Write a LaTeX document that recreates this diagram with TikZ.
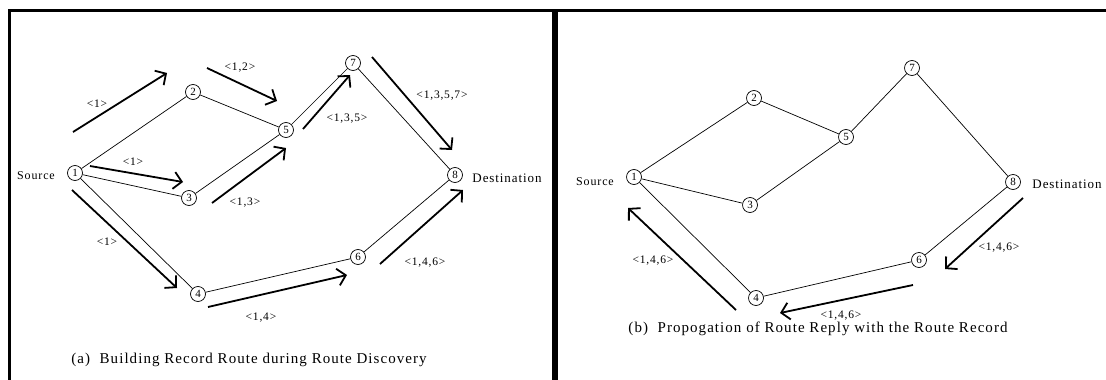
\documentclass[tikz,border=0pt]{standalone}
\usepackage{fontspec}
\setmainfont{Liberation Serif}
\newfontfamily\lspfont[LetterSpace=7]{Liberation Serif}
\usetikzlibrary{arrows.meta}
\begin{document}
\begin{tikzpicture}[x=1pt,y=-1pt,
  nd/.style={circle,draw,line width=0.7pt,inner sep=0pt,minimum size=15pt,font=\fontsize{11}{11}\selectfont},
  edge/.style={line width=0.7pt},
  fat/.style={line width=1.8pt,-{Straight Barb[length=8pt,width=17pt,line width=1.8pt]}},
  lbl/.style={font=\lspfont\fontsize{11.5}{11.5}\selectfont},
  srctxt/.style={font=\lspfont\fontsize{12}{12}\selectfont},
  dsttxt/.style={font=\lspfont\fontsize{13}{13}\selectfont},
  captxt/.style={font=\lspfont\fontsize{15}{15}\selectfont}]
\useasboundingbox (0,0) rectangle (1106,380);
% frame
\draw[line width=3pt] (8,10) -- (1106,10);
\draw[line width=3pt] (9.5,10) -- (9.5,380);
\draw[line width=6pt] (555,10) -- (555,380);

% ---------- panel (a) ----------
\node[nd] (a1) at (75,173) {1};
\node[nd] (a2) at (193,92) {2};
\node[nd] (a3) at (189,198) {3};
\node[nd] (a4) at (198,294) {4};
\node[nd] (a5) at (286,130) {5};
\node[nd] (a6) at (358,257) {6};
\node[nd] (a7) at (353,63) {7};
\node[nd] (a8) at (455,175) {8};
\node[srctxt] (asrc) at (36,176) {Source};
\node[dsttxt] (adst) at (507,178) {Destination};
\foreach \u/\v in {1/2,2/5,1/3,3/5,5/7,7/8,1/4,4/6,6/8}
  \draw[edge] (a\u) -- (a\v);

\coordinate (p1s) at (73,132);  \coordinate (p1e) at (167,73);
\coordinate (p2s) at (207,68);  \coordinate (p2e) at (277,101);
\coordinate (p3s) at (90,166);  \coordinate (p3e) at (183,182);
\coordinate (p4s) at (212,203); \coordinate (p4e) at (286,148);
\coordinate (p5s) at (303,129); \coordinate (p5e) at (350,75);
\coordinate (p6s) at (372,57);  \coordinate (p6e) at (452,150);
\coordinate (p7s) at (380,264); \coordinate (p7e) at (463,190);
\coordinate (p8s) at (72,190);  \coordinate (p8e) at (177,288);
\coordinate (p9s) at (208,307); \coordinate (p9e) at (347,275);
\foreach \i in {1,...,9} \draw[fat] (p\i s) -- (p\i e);

\node[lbl] (l1) at (97,104) {<1>};
\node[lbl] (l2) at (240,68) {<1,2>};
\node[lbl] (l3) at (133,162) {<1>};
\node[lbl] (l4) at (245,203) {<1,3>};
\node[lbl] (l5) at (347,119) {<1,3,5>};
\node[lbl] (l6) at (442,96) {<1,3,5,7>};
\node[lbl] (l7) at (425,263) {<1,4,6>};
\node[lbl] (l8) at (107,242) {<1>};
\node[lbl] (l9) at (261,318) {<1,4>};
\node[captxt] (capa) at (249,360) {(a)\ \ Building Record Route during Route Discovery};

% ---------- panel (b) ----------
\node[nd] (b1) at (634,177) {1};
\node[nd] (b2) at (754,98) {2};
\node[nd] (b3) at (750,205) {3};
\node[nd] (b4) at (756,298) {4};
\node[nd] (b5) at (846,137) {5};
\node[nd] (b6) at (919,260) {6};
\node[nd] (b7) at (912,68) {7};
\node[nd] (b8) at (1013,182) {8};
\node[srctxt] (bsrc) at (595,182) {Source};
\node[dsttxt] (bdst) at (1067,184) {Destination};
\foreach \u/\v in {1/2,2/5,1/3,3/5,5/7,7/8,1/4,4/6,6/8}
  \draw[edge] (b\u) -- (b\v);

\coordinate (q1s) at (1023,198); \coordinate (q1e) at (945,269);
\coordinate (q2s) at (913,285);  \coordinate (q2e) at (780,313);
\coordinate (q3s) at (736,310);  \coordinate (q3e) at (628,208);
\foreach \i in {1,2,3} \draw[fat] (q\i s) -- (q\i e);
\node[lbl] (m1) at (999,248) {<1,4,6>};
\node[lbl] (m2) at (841,316) {<1,4,6>};
\node[lbl] (m3) at (653,261) {<1,4,6>};
\node[captxt] (capb) at (818,329) {(b)\ \ Propogation of Route Reply with the Route Record};
\end{tikzpicture}
\end{document}
